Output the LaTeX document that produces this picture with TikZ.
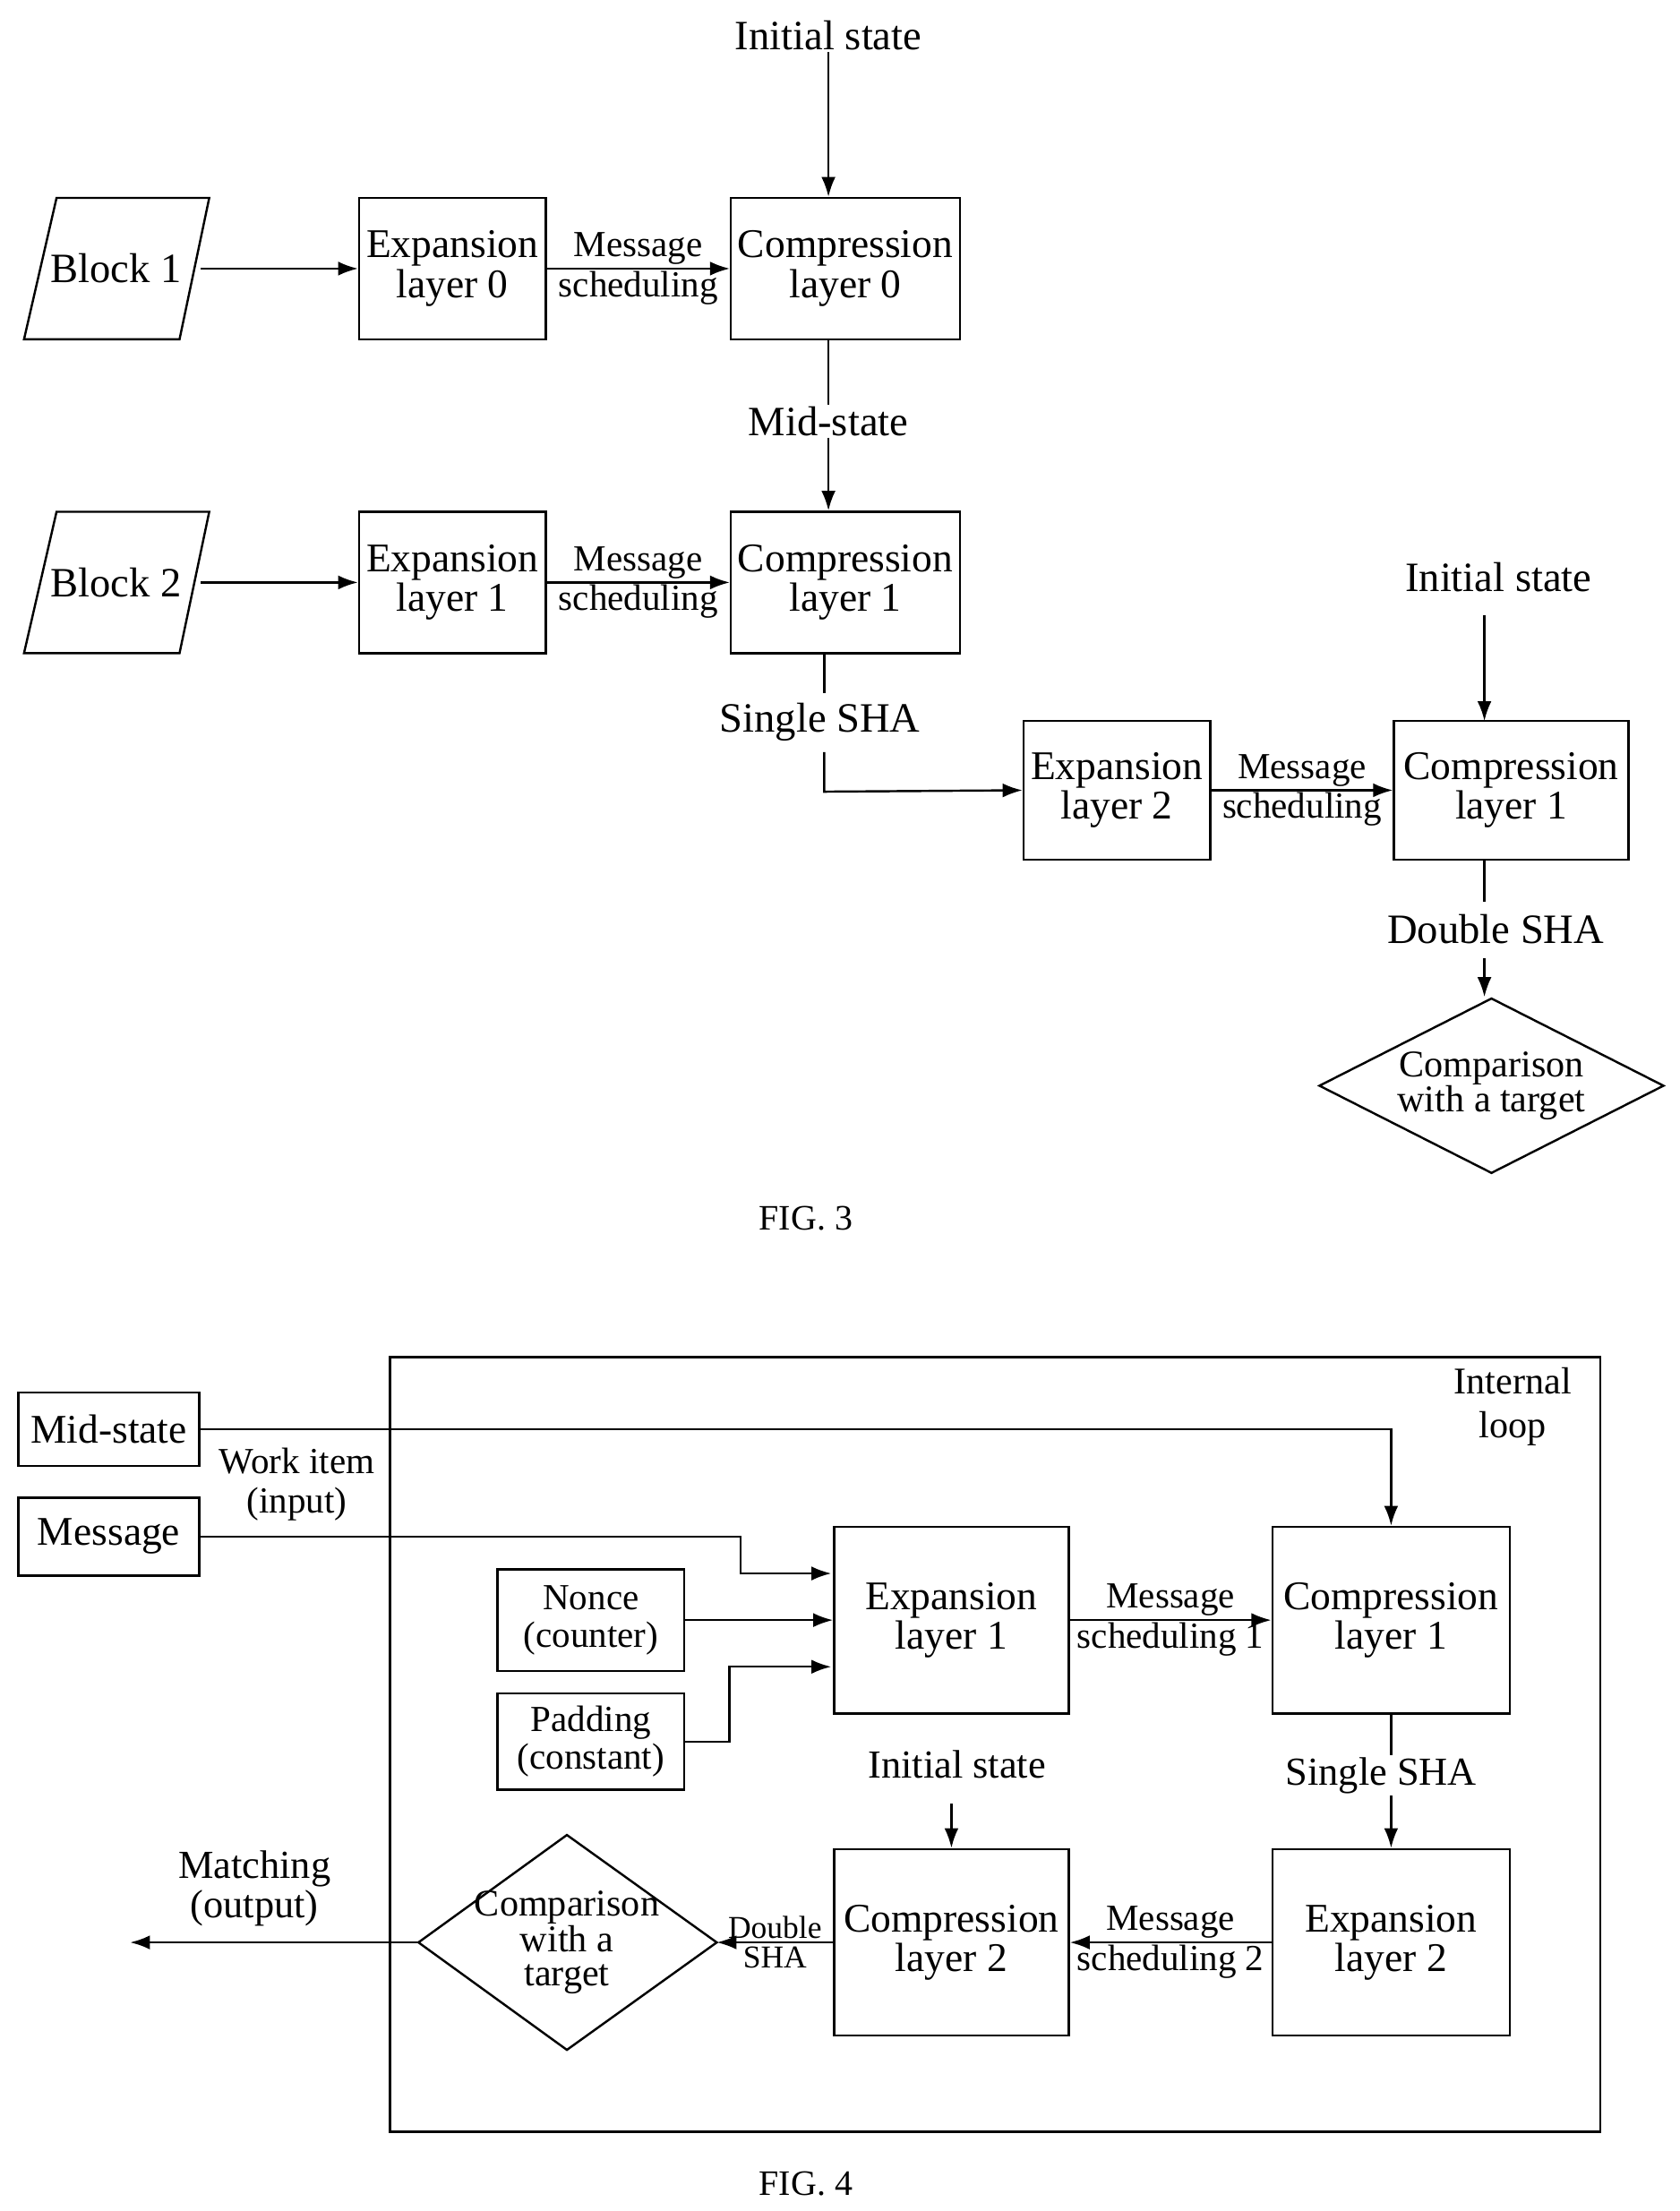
\documentclass[tikz,border=0pt]{standalone}
\usepackage{fontspec}
\setmainfont{Liberation Serif}
\usetikzlibrary{shapes.geometric,arrows.meta}

\tikzset{
    blk/.style={draw, line width=2.2pt, minimum width=6.6cm, minimum height=5cm, align=center, inner sep=0pt, font=\fontsize{41}{40}\selectfont},
    wblk/.style={blk, minimum width=8.3cm, minimum height=6.6cm},
    inp/.style={inner sep=0pt, font=\fontsize{42}{44}\selectfont},
    dec/.style={draw, line width=2.2pt, diamond, aspect=2, inner sep=0pt, align=center, font=\fontsize{38}{34}\selectfont},
    lbl/.style={align=center, inner sep=2pt, font=\fontsize{42}{48}\selectfont},
    mlbl/.style={align=center, inner sep=1pt, font=\fontsize{37}{40}\selectfont},
    slbl/.style={align=center, inner sep=1pt, font=\fontsize{32}{30}\selectfont},
    arr/.style={-{Latex[length=0.7cm,width=0.5cm]}, line width=2.2pt},
    ln/.style={line width=2.2pt}
}

\begin{document}
\begin{tikzpicture}[x=0.05cm, y=-0.05cm]
    \useasboundingbox (0,0) rectangle (1188,1564);

    % ---- FIG. 3 ----
    \node [lbl] (init0) at (586,25) {Initial state};
    \node [inp] (b1) at (82,190) {Block 1};
    \draw [ln] (17,240) -- (40,140) -- (148,140) -- (127,240) -- cycle;
    \coordinate (b1e) at (142,190);
    \node [blk] (e0) at (320,190) {Expansion\\layer 0};
    \node [blk, minimum width=8.1cm] (c0) at (598,190) {Compression\\layer 0};
    \node [lbl] (mid) at (586,298) {Mid-state};
    \node [inp] (b2) at (82,412) {Block 2};
    \draw [ln] (17,462) -- (40,362) -- (148,362) -- (127,462) -- cycle;
    \coordinate (b2e) at (142,412);
    \node [blk] (e1) at (320,412) {Expansion\\layer 1};
    \node [blk, minimum width=8.1cm] (c1) at (598,412) {Compression\\layer 1};
    \node [lbl] (single) at (580,511) {Single SHA};
    \node [blk, minimum height=4.9cm] (e2) at (790,559) {Expansion\\layer 2};
    \node [blk, minimum width=8.3cm, minimum height=4.9cm] (c2) at (1069,559) {Compression\\layer 1};
    \node [lbl] (init1) at (1060,408) {Initial state};
    \node [lbl] (dbl) at (1058,657) {Double SHA};
    \node [dec, minimum width=12.2cm, minimum height=6.2cm] (cmp0) at (1055,768) {Comparison\\with a target};
    \node [font=\fontsize{36}{40}\selectfont] (fig3) at (570,862) {FIG. 3};

    \draw [arr] (init0.south) -- (init0.south |- c0.north);
    \draw [arr] (b1e) -- (e0.west);
    \draw [arr] (e0.east) -- node [mlbl] {Message\\scheduling} (c0.west);
    \draw [ln] (init0.south |- c0.south) -- (mid.north);
    \draw [arr] (mid.south) -- (mid.south |- c1.north);
    \draw [arr] (b2e) -- (e1.west);
    \draw [arr] (e1.east) -- node [mlbl] {Message\\scheduling} (c1.west);
    \draw [ln] (583,462) -- (583,490);
    \draw [arr] (583,532) -- (583,560) -- (e2.west);
    \draw [arr] (e2.east) -- node [mlbl] {Message\\scheduling} (c2.west);
    \draw [arr] (1050,435) -- (1050,510);
    \draw [ln] (1050,608) -- (1050,638);
    \draw [arr] (1050,678) -- (cmp0.north -| 1050,0);

    % ---- FIG. 4 ----
    \draw [ln] (276,960) rectangle (1132,1508);
    \node [lbl, font=\fontsize{38}{44}\selectfont] (loop) at (1070,995) {Internal\\loop};
    \node [blk, minimum width=6.4cm, minimum height=2.6cm] (ms) at (77,1011) {Mid-state};
    \node [blk, minimum width=6.4cm, minimum height=2.75cm] (msg) at (77,1087) {Message};
    \node [mlbl] (work) at (210,1050) {Work item\\(input)};
    \node [wblk] (fe1) at (673,1146) {Expansion\\layer 1};
    \node [wblk, minimum width=8.4cm] (fc1) at (984,1146) {Compression\\layer 1};
    \node [blk, minimum height=3.6cm, font=\fontsize{37}{38}\selectfont] (nonce) at (418,1146) {Nonce\\(counter)};
    \node [blk, minimum height=3.4cm, font=\fontsize{37}{38}\selectfont] (pad) at (418,1232) {Padding\\(constant)};
    \node [lbl, font=\fontsize{40}{44}\selectfont] (single2) at (977,1256) {Single SHA};
    \node [wblk, minimum width=8.4cm] (fe2) at (984,1374) {Expansion\\layer 2};
    \node [wblk] (fc2) at (673,1374) {Compression\\layer 2};
    \node [lbl, font=\fontsize{40}{44}\selectfont] (init2) at (677,1248) {Initial state};
    \node [align=center, inner sep=0pt, font=\fontsize{38}{34}\selectfont] (cmp1) at (401,1374) {Comparison\\with a\\target};
    \draw [ln] (296,1374) -- (401,1298) -- (507,1374) -- (401,1450) -- cycle;
    \coordinate (cmp1w) at (296,1374);
    \coordinate (cmp1e) at (507,1374);
    \node [mlbl, font=\fontsize{40}{40}\selectfont] (match) at (180,1336) {Matching\\(output)};
    \coordinate (out) at (92,1374);
    \node [font=\fontsize{36}{40}\selectfont] (fig4) at (570,1545) {FIG. 4};

    \draw [arr] (ms.east) -- (ms.east -| fc1.north) -- (fc1.north);
    \draw [arr] (msg.east) -- (524,1087) -- (524,1113) -- (588,1113);
    \draw [arr] (nonce.east) -- (nonce.east -| fe1.west);
    \draw [arr] (pad.east) -- (516,1232) -- (516,1179) -- (588,1179);
    \draw [arr] (fe1.east) -- node [mlbl] {Message\\scheduling 1} (fc1.west);
    \draw [ln] (fc1.south) -- (single2.north -| fc1.south);
    \draw [arr] (single2.south -| fc1.south) -- (fe2.north);
    \draw [arr] (673,1276) -- (fc2.north -| 673,0);
    \draw [arr] (fe2.west) -- node [mlbl] {Message\\scheduling 2} (fc2.east);
    \draw [arr] (fc2.west) -- node [slbl] {Double\\SHA} (cmp1e);
    \draw [arr] (cmp1w) -- (out);
\end{tikzpicture}
\end{document}
